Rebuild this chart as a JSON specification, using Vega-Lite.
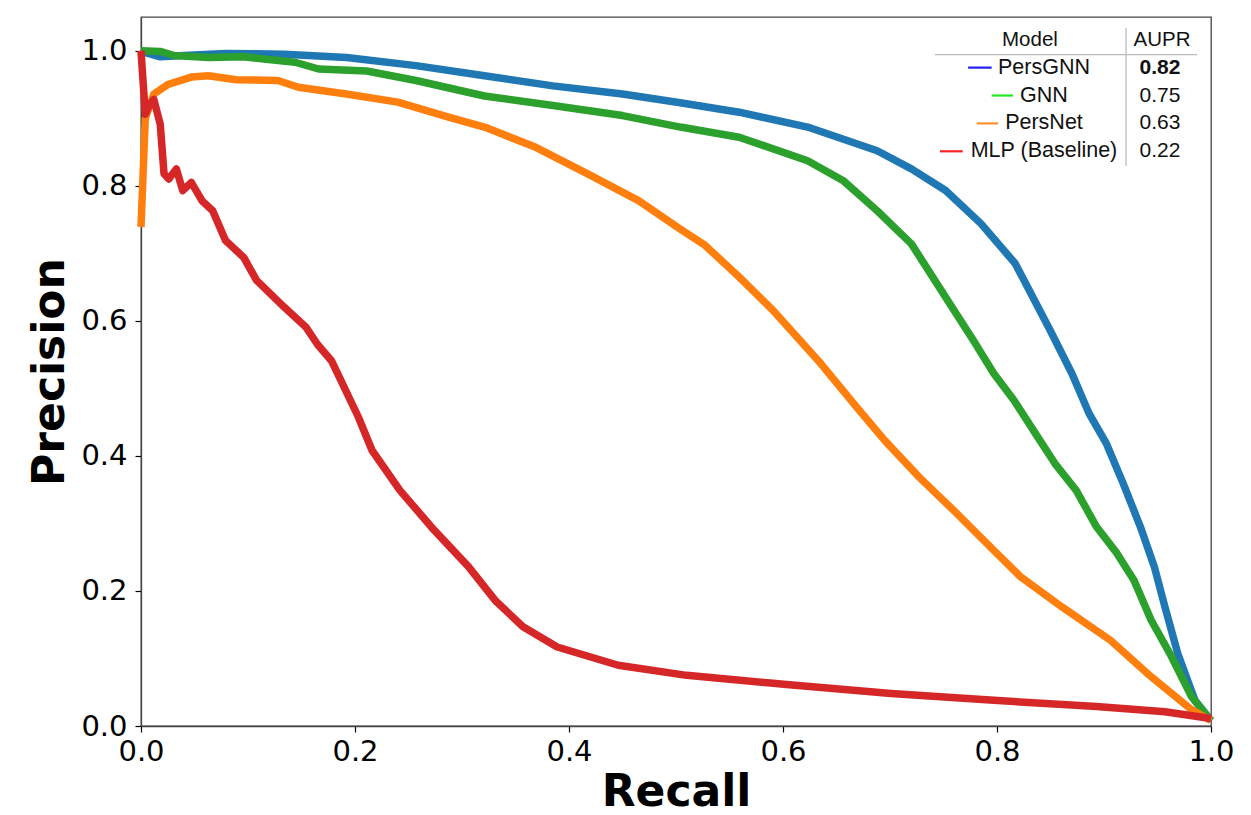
{
  "$schema": "https://vega.github.io/schema/vega-lite/v6.json",
  "width": 1070,
  "height": 709,
  "autosize": {"type": "none"},
  "padding": {"left": 141, "top": 17, "right": 40, "bottom": 89},
  "background": "white",
  "config": {
    "view": {"stroke": "#444", "strokeWidth": 1.3},
    "axis": {
      "grid": false,
      "format": ".1f",
      "labelFont": "DejaVu Sans",
      "labelFontSize": 29,
      "labelColor": "#000",
      "labelFlush": false,
      "labelOverlap": false,
      "tickSize": 6,
      "tickColor": "#000",
      "tickWidth": 1.2,
      "domainColor": "#444",
      "domainWidth": 1.3,
      "titleFont": "DejaVu Sans",
      "titleFontSize": 44,
      "titleFontWeight": "bold",
      "titleColor": "#000"
    }
  },
  "datasets": {
    "curves": [
      {"model": "PersGNN", "recall": 0, "precision": 1.0},
      {"model": "PersGNN", "recall": 0.005, "precision": 0.997},
      {"model": "PersGNN", "recall": 0.018, "precision": 0.991},
      {"model": "PersGNN", "recall": 0.04, "precision": 0.993},
      {"model": "PersGNN", "recall": 0.079, "precision": 0.996},
      {"model": "PersGNN", "recall": 0.134, "precision": 0.995},
      {"model": "PersGNN", "recall": 0.192, "precision": 0.99},
      {"model": "PersGNN", "recall": 0.257, "precision": 0.978},
      {"model": "PersGNN", "recall": 0.321, "precision": 0.963},
      {"model": "PersGNN", "recall": 0.385, "precision": 0.948},
      {"model": "PersGNN", "recall": 0.45, "precision": 0.936},
      {"model": "PersGNN", "recall": 0.504, "precision": 0.923},
      {"model": "PersGNN", "recall": 0.559, "precision": 0.909},
      {"model": "PersGNN", "recall": 0.623, "precision": 0.887},
      {"model": "PersGNN", "recall": 0.688, "precision": 0.852},
      {"model": "PersGNN", "recall": 0.72, "precision": 0.825},
      {"model": "PersGNN", "recall": 0.752, "precision": 0.793},
      {"model": "PersGNN", "recall": 0.785, "precision": 0.744},
      {"model": "PersGNN", "recall": 0.817, "precision": 0.685},
      {"model": "PersGNN", "recall": 0.85, "precision": 0.585},
      {"model": "PersGNN", "recall": 0.87, "precision": 0.522},
      {"model": "PersGNN", "recall": 0.886, "precision": 0.463},
      {"model": "PersGNN", "recall": 0.902, "precision": 0.419},
      {"model": "PersGNN", "recall": 0.918, "precision": 0.359},
      {"model": "PersGNN", "recall": 0.934, "precision": 0.295},
      {"model": "PersGNN", "recall": 0.947, "precision": 0.236},
      {"model": "PersGNN", "recall": 0.957, "precision": 0.176},
      {"model": "PersGNN", "recall": 0.969, "precision": 0.107},
      {"model": "PersGNN", "recall": 0.985, "precision": 0.038},
      {"model": "PersGNN", "recall": 1.0, "precision": 0.008},

      {"model": "GNN", "recall": 0, "precision": 1.0},
      {"model": "GNN", "recall": 0.018, "precision": 0.999},
      {"model": "GNN", "recall": 0.031, "precision": 0.993},
      {"model": "GNN", "recall": 0.063, "precision": 0.99},
      {"model": "GNN", "recall": 0.096, "precision": 0.991},
      {"model": "GNN", "recall": 0.144, "precision": 0.983},
      {"model": "GNN", "recall": 0.166, "precision": 0.973},
      {"model": "GNN", "recall": 0.211, "precision": 0.97},
      {"model": "GNN", "recall": 0.257, "precision": 0.956},
      {"model": "GNN", "recall": 0.321, "precision": 0.933},
      {"model": "GNN", "recall": 0.385, "precision": 0.919},
      {"model": "GNN", "recall": 0.45, "precision": 0.904},
      {"model": "GNN", "recall": 0.504, "precision": 0.887},
      {"model": "GNN", "recall": 0.559, "precision": 0.872},
      {"model": "GNN", "recall": 0.623, "precision": 0.837},
      {"model": "GNN", "recall": 0.656, "precision": 0.808},
      {"model": "GNN", "recall": 0.688, "precision": 0.763},
      {"model": "GNN", "recall": 0.72, "precision": 0.714},
      {"model": "GNN", "recall": 0.752, "precision": 0.635},
      {"model": "GNN", "recall": 0.778, "precision": 0.571},
      {"model": "GNN", "recall": 0.797, "precision": 0.522},
      {"model": "GNN", "recall": 0.816, "precision": 0.482},
      {"model": "GNN", "recall": 0.836, "precision": 0.433},
      {"model": "GNN", "recall": 0.854, "precision": 0.389},
      {"model": "GNN", "recall": 0.874, "precision": 0.349},
      {"model": "GNN", "recall": 0.893, "precision": 0.295},
      {"model": "GNN", "recall": 0.912, "precision": 0.256},
      {"model": "GNN", "recall": 0.928, "precision": 0.216},
      {"model": "GNN", "recall": 0.944, "precision": 0.157},
      {"model": "GNN", "recall": 0.963, "precision": 0.103},
      {"model": "GNN", "recall": 0.982, "precision": 0.043},
      {"model": "GNN", "recall": 1.0, "precision": 0.008},

      {"model": "PersNet", "recall": 0, "precision": 0.739},
      {"model": "PersNet", "recall": 0.004, "precision": 0.9},
      {"model": "PersNet", "recall": 0.012, "precision": 0.936},
      {"model": "PersNet", "recall": 0.025, "precision": 0.95},
      {"model": "PersNet", "recall": 0.047, "precision": 0.961},
      {"model": "PersNet", "recall": 0.063, "precision": 0.963},
      {"model": "PersNet", "recall": 0.089, "precision": 0.957},
      {"model": "PersNet", "recall": 0.128, "precision": 0.956},
      {"model": "PersNet", "recall": 0.147, "precision": 0.946},
      {"model": "PersNet", "recall": 0.192, "precision": 0.936},
      {"model": "PersNet", "recall": 0.24, "precision": 0.924},
      {"model": "PersNet", "recall": 0.289, "precision": 0.901},
      {"model": "PersNet", "recall": 0.321, "precision": 0.887},
      {"model": "PersNet", "recall": 0.369, "precision": 0.857},
      {"model": "PersNet", "recall": 0.417, "precision": 0.818},
      {"model": "PersNet", "recall": 0.465, "precision": 0.778},
      {"model": "PersNet", "recall": 0.504, "precision": 0.736},
      {"model": "PersNet", "recall": 0.527, "precision": 0.712},
      {"model": "PersNet", "recall": 0.559, "precision": 0.665},
      {"model": "PersNet", "recall": 0.591, "precision": 0.615},
      {"model": "PersNet", "recall": 0.633, "precision": 0.541},
      {"model": "PersNet", "recall": 0.669, "precision": 0.472},
      {"model": "PersNet", "recall": 0.695, "precision": 0.423},
      {"model": "PersNet", "recall": 0.727, "precision": 0.369},
      {"model": "PersNet", "recall": 0.759, "precision": 0.32},
      {"model": "PersNet", "recall": 0.797, "precision": 0.26},
      {"model": "PersNet", "recall": 0.822, "precision": 0.221},
      {"model": "PersNet", "recall": 0.861, "precision": 0.176},
      {"model": "PersNet", "recall": 0.906, "precision": 0.127},
      {"model": "PersNet", "recall": 0.944, "precision": 0.073},
      {"model": "PersNet", "recall": 0.982, "precision": 0.024},
      {"model": "PersNet", "recall": 1.0, "precision": 0.008},

      {"model": "MLP (Baseline)", "recall": 0, "precision": 1.0},
      {"model": "MLP (Baseline)", "recall": 0.004, "precision": 0.906},
      {"model": "MLP (Baseline)", "recall": 0.008, "precision": 0.92},
      {"model": "MLP (Baseline)", "recall": 0.012, "precision": 0.928},
      {"model": "MLP (Baseline)", "recall": 0.018, "precision": 0.891},
      {"model": "MLP (Baseline)", "recall": 0.0215, "precision": 0.818},
      {"model": "MLP (Baseline)", "recall": 0.026, "precision": 0.81},
      {"model": "MLP (Baseline)", "recall": 0.033, "precision": 0.825},
      {"model": "MLP (Baseline)", "recall": 0.039, "precision": 0.793},
      {"model": "MLP (Baseline)", "recall": 0.047, "precision": 0.805},
      {"model": "MLP (Baseline)", "recall": 0.057, "precision": 0.778},
      {"model": "MLP (Baseline)", "recall": 0.067, "precision": 0.763},
      {"model": "MLP (Baseline)", "recall": 0.079, "precision": 0.719},
      {"model": "MLP (Baseline)", "recall": 0.096, "precision": 0.694},
      {"model": "MLP (Baseline)", "recall": 0.108, "precision": 0.66},
      {"model": "MLP (Baseline)", "recall": 0.134, "precision": 0.62},
      {"model": "MLP (Baseline)", "recall": 0.154, "precision": 0.591},
      {"model": "MLP (Baseline)", "recall": 0.165, "precision": 0.565},
      {"model": "MLP (Baseline)", "recall": 0.178, "precision": 0.541},
      {"model": "MLP (Baseline)", "recall": 0.203, "precision": 0.458},
      {"model": "MLP (Baseline)", "recall": 0.216, "precision": 0.408},
      {"model": "MLP (Baseline)", "recall": 0.242, "precision": 0.349},
      {"model": "MLP (Baseline)", "recall": 0.274, "precision": 0.29},
      {"model": "MLP (Baseline)", "recall": 0.306, "precision": 0.236},
      {"model": "MLP (Baseline)", "recall": 0.331, "precision": 0.186},
      {"model": "MLP (Baseline)", "recall": 0.357, "precision": 0.147},
      {"model": "MLP (Baseline)", "recall": 0.389, "precision": 0.117},
      {"model": "MLP (Baseline)", "recall": 0.446, "precision": 0.09},
      {"model": "MLP (Baseline)", "recall": 0.51, "precision": 0.075},
      {"model": "MLP (Baseline)", "recall": 0.606, "precision": 0.061},
      {"model": "MLP (Baseline)", "recall": 0.701, "precision": 0.048},
      {"model": "MLP (Baseline)", "recall": 0.797, "precision": 0.038},
      {"model": "MLP (Baseline)", "recall": 0.893, "precision": 0.029},
      {"model": "MLP (Baseline)", "recall": 0.957, "precision": 0.021},
      {"model": "MLP (Baseline)", "recall": 1.0, "precision": 0.011}
    ],
    "table": [
      {"model": "PersGNN", "aupr": "0.82", "row": 1},
      {"model": "GNN", "aupr": "0.75", "row": 2},
      {"model": "PersNet", "aupr": "0.63", "row": 3},
      {"model": "MLP (Baseline)", "aupr": "0.22", "row": 4}
    ],
    "header": [
      {"model": "Model", "aupr": "AUPR", "row": 0}
    ]
  },
  "layer": [
    {
      "data": {"name": "curves"},
      "mark": {"type": "line", "strokeWidth": 7.5, "strokeJoin": "round"},
      "encoding": {
        "x": {
          "field": "recall", "type": "quantitative",
          "scale": {"domain": [0, 1], "nice": false, "zero": false},
          "axis": {"values": [0, 0.2, 0.4, 0.6, 0.8, 1.0], "title": "Recall", "labelPadding": 5, "titlePadding": 4}
        },
        "y": {
          "field": "precision", "type": "quantitative",
          "scale": {"domain": [0, 1.05], "nice": false, "zero": false},
          "axis": {"values": [0, 0.2, 0.4, 0.6, 0.8, 1.0], "title": "Precision", "labelPadding": 8, "titlePadding": 8}
        },
        "color": {
          "field": "model", "type": "nominal",
          "scale": {"domain": ["PersGNN", "GNN", "PersNet", "MLP (Baseline)"], "range": ["#1f77b4", "#2ca02c", "#ff7f0e", "#d62728"]},
          "legend": null
        }
      }
    },
    {
      "layer": [
        {
          "data": {"name": "header"},
          "mark": {"type": "rule", "color": "#bbbbbb", "strokeWidth": 1.3},
          "encoding": {
            "x": {"datum": 0.742},
            "x2": {"datum": 0.987},
            "y": {"datum": 0.5376, "scale": {"domain": [-0.814, 24.6], "reverse": true, "nice": false, "zero": false}, "axis": null}
          }
        },
        {
          "data": {"name": "header"},
          "mark": {"type": "rule", "color": "#bbbbbb", "strokeWidth": 1.3},
          "encoding": {
            "x": {"datum": 0.9206},
            "y": {"datum": -0.419, "scale": {"domain": [-0.814, 24.6], "reverse": true, "nice": false, "zero": false}, "axis": null},
            "y2": {"datum": 4.527}
          }
        },
        {
          "data": {"name": "header"},
          "mark": {"type": "text", "font": "Liberation Sans", "fontSize": 20.5, "color": "#111", "align": "center", "baseline": "middle"},
          "encoding": {
            "x": {"datum": 0.8308},
            "y": {"field": "row", "type": "quantitative", "scale": {"domain": [-0.814, 24.6], "reverse": true, "nice": false, "zero": false}, "axis": null},
            "text": {"field": "model"}
          }
        },
        {
          "data": {"name": "header"},
          "mark": {"type": "text", "font": "Liberation Sans", "fontSize": 20.5, "color": "#111", "align": "center", "baseline": "middle"},
          "encoding": {
            "x": {"datum": 0.9542},
            "y": {"field": "row", "type": "quantitative", "scale": {"domain": [-0.814, 24.6], "reverse": true, "nice": false, "zero": false}, "axis": null},
            "text": {"field": "aupr"}
          }
        },
        {
          "data": {"name": "table"},
          "mark": {"type": "text", "font": "Liberation Sans", "fontSize": 21.5, "color": "#111", "align": "center", "baseline": "middle"},
          "encoding": {
            "x": {"datum": 0.8439},
            "y": {"field": "row", "type": "quantitative", "scale": {"domain": [-0.814, 24.6], "reverse": true, "nice": false, "zero": false}, "axis": null},
            "text": {"field": "model"}
          }
        },
        {
          "data": {"name": "table"},
          "transform": [{"filter": "datum.model !== 'PersGNN'"}],
          "mark": {"type": "text", "font": "Liberation Sans", "fontSize": 21, "color": "#111", "align": "center", "baseline": "middle"},
          "encoding": {
            "x": {"datum": 0.9523},
            "y": {"field": "row", "type": "quantitative", "scale": {"domain": [-0.814, 24.6], "reverse": true, "nice": false, "zero": false}, "axis": null},
            "text": {"field": "aupr"}
          }
        },
        {
          "data": {"name": "table"},
          "transform": [{"filter": "datum.model === 'PersGNN'"}],
          "mark": {"type": "text", "font": "Liberation Sans", "fontSize": 21, "fontWeight": "bold", "color": "#111", "align": "center", "baseline": "middle"},
          "encoding": {
            "x": {"datum": 0.9523},
            "y": {"field": "row", "type": "quantitative", "scale": {"domain": [-0.814, 24.6], "reverse": true, "nice": false, "zero": false}, "axis": null},
            "text": {"field": "aupr"}
          }
        },
        {
          "data": {"name": "table"},
          "transform": [{"filter": "datum.model === 'PersGNN'"}],
          "mark": {"type": "rule", "color": "#2020f0", "strokeWidth": 2.2},
          "encoding": {
            "x": {"datum": 0.773},
            "x2": {"datum": 0.795},
            "y": {"field": "row", "type": "quantitative", "scale": {"domain": [-0.814, 24.6], "reverse": true, "nice": false, "zero": false}, "axis": null}
          }
        },
        {
          "data": {"name": "table"},
          "transform": [{"filter": "datum.model === 'GNN'"}],
          "mark": {"type": "rule", "color": "#22e822", "strokeWidth": 2.2},
          "encoding": {
            "x": {"datum": 0.795},
            "x2": {"datum": 0.815},
            "y": {"field": "row", "type": "quantitative", "scale": {"domain": [-0.814, 24.6], "reverse": true, "nice": false, "zero": false}, "axis": null}
          }
        },
        {
          "data": {"name": "table"},
          "transform": [{"filter": "datum.model === 'PersNet'"}],
          "mark": {"type": "rule", "color": "#ff9030", "strokeWidth": 2.2},
          "encoding": {
            "x": {"datum": 0.781},
            "x2": {"datum": 0.801},
            "y": {"field": "row", "type": "quantitative", "scale": {"domain": [-0.814, 24.6], "reverse": true, "nice": false, "zero": false}, "axis": null}
          }
        },
        {
          "data": {"name": "table"},
          "transform": [{"filter": "datum.model === 'MLP (Baseline)'"}],
          "mark": {"type": "rule", "color": "#f52525", "strokeWidth": 2.2},
          "encoding": {
            "x": {"datum": 0.7467},
            "x2": {"datum": 0.768},
            "y": {"field": "row", "type": "quantitative", "scale": {"domain": [-0.814, 24.6], "reverse": true, "nice": false, "zero": false}, "axis": null}
          }
        }
      ]
    }
  ],
  "resolve": {"scale": {"y": "independent"}}
}
